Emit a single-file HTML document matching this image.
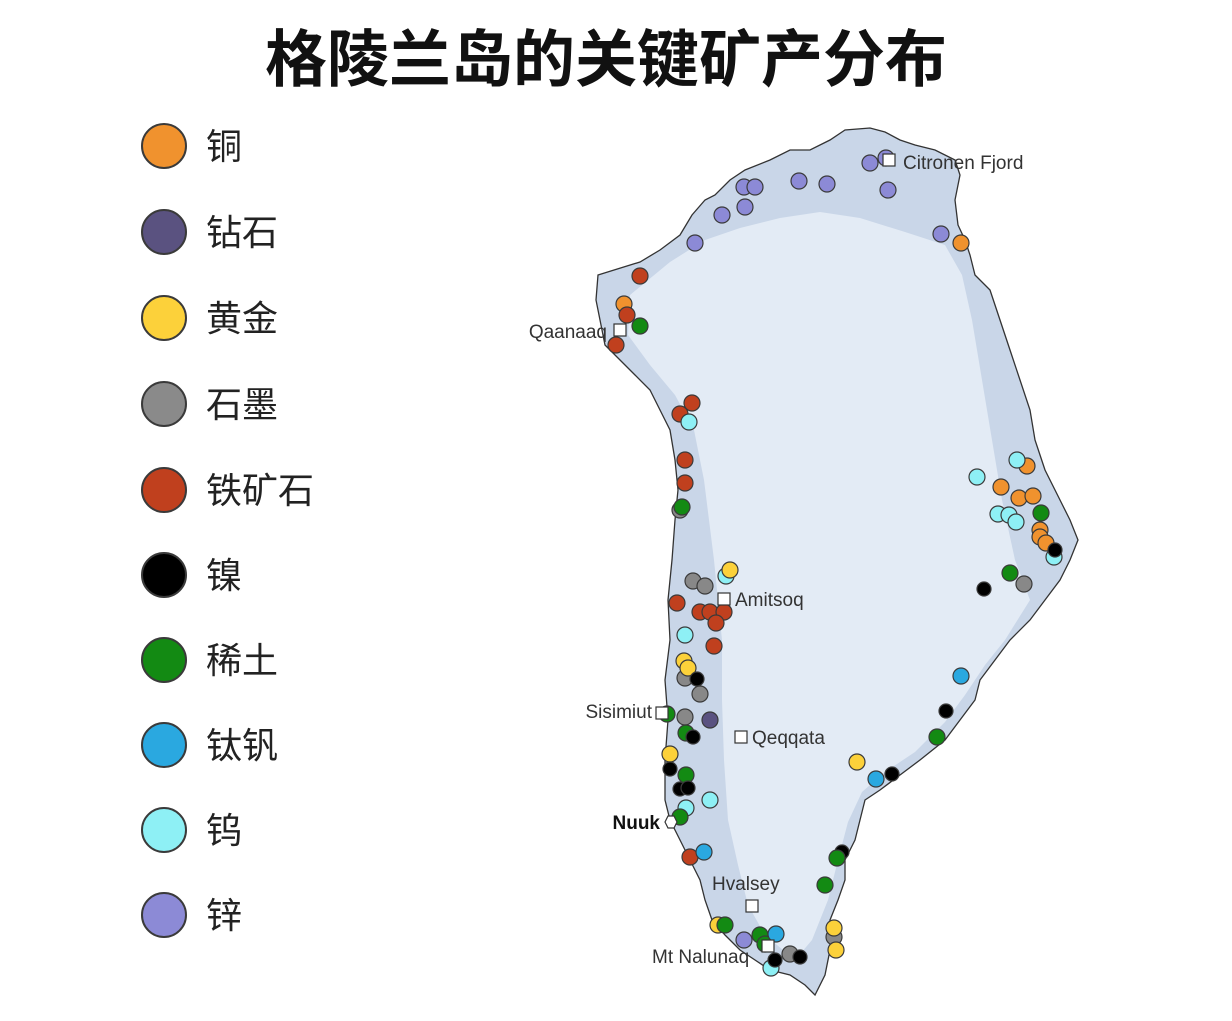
<!DOCTYPE html>
<html><head><meta charset="utf-8"><style>
html,body{margin:0;padding:0;background:#fff;}
body{width:1232px;height:1016px;position:relative;overflow:hidden;font-family:"Liberation Sans","Noto Sans CJK SC",sans-serif;}
</style></head><body>
<svg width="1232" height="1016" viewBox="0 0 1232 1016" xmlns="http://www.w3.org/2000/svg">
<text x="606" y="81" text-anchor="middle" font-family="Liberation Sans, Noto Sans CJK SC, sans-serif" font-size="62" font-weight="bold" fill="#111">格陵兰岛的关键矿产分布</text>
<g stroke="#3a3a3a" stroke-width="2">
<circle cx="164" cy="146" r="22" fill="#f0922e"/>
<circle cx="164" cy="232" r="22" fill="#5a5280"/>
<circle cx="164" cy="318" r="22" fill="#fcd13a"/>
<circle cx="164" cy="404" r="22" fill="#8a8a8a"/>
<circle cx="164" cy="490" r="22" fill="#c0401e"/>
<circle cx="164" cy="575" r="22" fill="#000"/>
<circle cx="164" cy="660" r="22" fill="#138a13"/>
<circle cx="164" cy="745" r="22" fill="#2aa8e0"/>
<circle cx="164" cy="830" r="22" fill="#8ef0f5"/>
<circle cx="164" cy="915" r="22" fill="#8c8ad6"/>
</g>
<g font-family="Liberation Sans, Noto Sans CJK SC, sans-serif" font-size="36" fill="#222">
<text x="206" y="159">铜</text><text x="206" y="245">钻石</text><text x="206" y="331">黄金</text>
<text x="206" y="417">石墨</text><text x="206" y="503">铁矿石</text><text x="206" y="588">镍</text>
<text x="206" y="673">稀土</text><text x="206" y="758">钛钒</text><text x="206" y="843">钨</text><text x="206" y="928">锌</text>
</g>
<polygon fill="#c9d6e8" stroke="#333" stroke-width="1.3" points="598,275 640,262 660,250 680,235 692,215 705,200 715,195 730,180 745,170 770,160 790,150 810,150 830,140 845,130 870,128 885,132 900,140 915,145 935,150 955,160 960,175 955,200 958,225 965,240 970,255 975,275 990,290 1000,320 1010,350 1020,380 1030,410 1035,440 1045,470 1060,500 1070,520 1078,540 1070,560 1060,580 1045,600 1030,620 1010,640 995,660 980,680 975,700 960,720 945,740 920,760 900,775 880,790 865,800 860,820 855,840 845,860 845,880 838,900 830,920 830,950 825,975 815,995 805,985 790,975 770,970 755,960 740,950 725,935 712,920 705,900 700,880 690,860 680,840 670,820 665,800 665,760 668,720 665,680 670,640 668,600 672,560 675,520 678,490 675,460 670,430 660,410 650,390 635,375 620,360 605,345 600,320 596,300"/>
<polygon fill="#e3ebf5" points="630,295 670,262 705,240 740,228 780,218 820,212 860,218 905,232 945,245 962,275 972,320 982,380 992,440 1002,500 1015,560 1030,600 1005,640 985,665 965,695 945,722 915,752 885,772 862,792 848,822 838,860 828,900 812,940 795,960 765,935 748,905 738,865 728,820 724,760 722,700 722,640 714,560 704,480 694,430 675,395 650,365 628,335"/>
<g stroke="#3a3a3a" stroke-width="1.2">
<g fill="#8c8ad6"><circle cx="870" cy="163" r="8"/><circle cx="886" cy="158" r="8"/><circle cx="888" cy="190" r="8"/><circle cx="744" cy="187" r="8"/><circle cx="755" cy="187" r="8"/><circle cx="799" cy="181" r="8"/><circle cx="827" cy="184" r="8"/><circle cx="722" cy="215" r="8"/><circle cx="745" cy="207" r="8"/><circle cx="695" cy="243" r="8"/><circle cx="941" cy="234" r="8"/><circle cx="744" cy="940" r="8"/></g>
<g fill="#f0922e"><circle cx="961" cy="243" r="8"/><circle cx="624" cy="304" r="8"/><circle cx="1027" cy="466" r="8"/><circle cx="1001" cy="487" r="8"/><circle cx="1019" cy="498" r="8"/><circle cx="1033" cy="496" r="8"/><circle cx="1040" cy="530" r="8"/><circle cx="1040" cy="537" r="8"/><circle cx="1046" cy="543" r="8"/></g>
<g fill="#c0401e"><circle cx="640" cy="276" r="8"/><circle cx="627" cy="315" r="8"/><circle cx="616" cy="345" r="8"/><circle cx="692" cy="403" r="8"/><circle cx="680" cy="414" r="8"/><circle cx="685" cy="460" r="8"/><circle cx="685" cy="483" r="8"/><circle cx="677" cy="603" r="8"/><circle cx="700" cy="612" r="8"/><circle cx="710" cy="612" r="8"/><circle cx="724" cy="612" r="8"/><circle cx="716" cy="623" r="8"/><circle cx="714" cy="646" r="8"/><circle cx="690" cy="857" r="8"/></g>
<g fill="#8ef0f5"><circle cx="689" cy="422" r="8"/><circle cx="1017" cy="460" r="8"/><circle cx="977" cy="477" r="8"/><circle cx="998" cy="514" r="8"/><circle cx="1009" cy="515" r="8"/><circle cx="1016" cy="522" r="8"/><circle cx="1054" cy="557" r="8"/><circle cx="726" cy="576" r="8"/><circle cx="685" cy="635" r="8"/><circle cx="710" cy="800" r="8"/><circle cx="686" cy="808" r="8"/><circle cx="771" cy="968" r="8"/></g>
<g fill="#888"><circle cx="680" cy="510" r="8"/><circle cx="693" cy="581" r="8"/><circle cx="705" cy="586" r="8"/><circle cx="1024" cy="584" r="8"/><circle cx="685" cy="678" r="8"/><circle cx="700" cy="694" r="8"/><circle cx="685" cy="717" r="8"/><circle cx="790" cy="954" r="8"/><circle cx="834" cy="937" r="8"/></g>
<g fill="#fcd13a"><circle cx="730" cy="570" r="8"/><circle cx="684" cy="661" r="8"/><circle cx="688" cy="668" r="8"/><circle cx="670" cy="754" r="8"/><circle cx="857" cy="762" r="8"/><circle cx="718" cy="925" r="8"/><circle cx="834" cy="928" r="8"/><circle cx="836" cy="950" r="8"/></g>
<g fill="#138a13"><circle cx="640" cy="326" r="8"/><circle cx="682" cy="507" r="8"/><circle cx="1041" cy="513" r="8"/><circle cx="1010" cy="573" r="8"/><circle cx="937" cy="737" r="8"/><circle cx="667" cy="714" r="8"/><circle cx="686" cy="733" r="8"/><circle cx="686" cy="775" r="8"/><circle cx="680" cy="817" r="8"/><circle cx="825" cy="885" r="8"/><circle cx="725" cy="925" r="8"/><circle cx="760" cy="935" r="8"/><circle cx="765" cy="944" r="8"/></g>
<g fill="#000"><circle cx="1055" cy="550" r="7"/><circle cx="984" cy="589" r="7"/><circle cx="946" cy="711" r="7"/><circle cx="892" cy="774" r="7"/><circle cx="697" cy="679" r="7"/><circle cx="693" cy="737" r="7"/><circle cx="670" cy="769" r="7"/><circle cx="680" cy="789" r="7"/><circle cx="688" cy="788" r="7"/><circle cx="842" cy="852" r="7"/><circle cx="775" cy="960" r="7"/><circle cx="800" cy="957" r="7"/></g>
<circle cx="837" cy="858" r="8" fill="#138a13"/>
<g fill="#2aa8e0"><circle cx="961" cy="676" r="8"/><circle cx="876" cy="779" r="8"/><circle cx="704" cy="852" r="8"/><circle cx="776" cy="934" r="8"/></g>
<circle cx="710" cy="720" r="8" fill="#5a5280"/>
</g>
<g fill="#fff" stroke="#333" stroke-width="1.2">
<rect x="883" y="154" width="12" height="12"/><rect x="614" y="324" width="12" height="12"/><rect x="718" y="593" width="12" height="12"/><rect x="656" y="707" width="12" height="12"/><rect x="735" y="731" width="12" height="12"/><rect x="746" y="900" width="12" height="12"/><rect x="762" y="940" width="12" height="12"/>
<polygon points="665,822 668,816 674,816 677,822 674,828 668,828"/>
</g>
<g font-family="Liberation Sans, sans-serif" font-size="19" fill="#333">
<text x="903" y="169">Citronen Fjord</text>
<text x="607" y="338" text-anchor="end">Qaanaaq</text>
<text x="735" y="606">Amitsoq</text>
<text x="652" y="718" text-anchor="end">Sisimiut</text>
<text x="752" y="744">Qeqqata</text>
<text x="660" y="829" text-anchor="end" font-weight="bold" fill="#111">Nuuk</text>
<text x="712" y="890">Hvalsey</text>
<text x="652" y="963">Mt Nalunaq</text>
</g>
</svg>
</body></html>
